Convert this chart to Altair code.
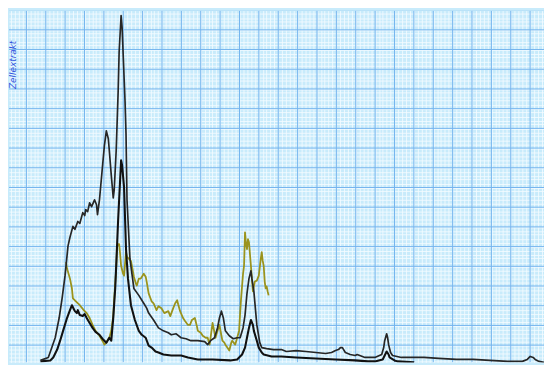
import altair as alt
import numpy as np
import pandas as pd

# Trace A (tall, dark grey) : scan number vs. detector signal
a_x = [35, 43, 50, 54, 57, 60, 63, 65, 68, 70, 73, 75, 78, 80, 81, 83, 85, 87, 90, 92, 93, 95, 98, 100, 102, 104, 105, 107, 109, 110,
       112, 114, 115, 117, 118, 119, 121, 122, 123, 126, 130, 135, 140, 143, 145, 150, 155, 160, 165, 168, 173, 178, 183, 188, 195,
       202, 205, 208, 212, 215, 217, 219, 221, 223, 227, 231, 235, 238, 241, 243, 245, 247, 249, 250, 252, 255, 258, 260, 265, 272,
       280, 285, 295, 305, 315, 325, 331, 335, 338, 340, 342, 345, 350, 355, 357, 365, 375, 382, 384, 385, 387, 388, 389, 391, 393,
       402, 415, 425, 440, 458, 475, 492, 510, 525, 530, 533, 536, 538, 542, 547]
a_y = [2, 5, 25, 45, 65, 88, 118, 127, 138, 135, 143, 141, 152, 149, 155, 153, 162, 158, 165, 160, 150, 165, 198, 220, 235, 227, 215,
       190, 167, 175, 215, 275, 315, 352, 340, 315, 265, 232, 165, 105, 75, 68, 60, 55, 50, 43, 35, 32, 30, 28, 29, 25, 24, 22, 22,
       21, 18, 22, 25, 35, 45, 52, 45, 32, 27, 24, 25, 25, 35, 48, 70, 85, 93, 85, 72, 38, 20, 15, 14, 13,
       13, 11, 12, 11, 10, 9, 10, 12, 13, 15, 15, 10, 8, 7, 8, 5, 5, 8, 15, 22, 29, 25, 18, 10, 7,
       5, 5, 5, 4, 3, 3, 2, 1, 1, 3, 6, 5, 3, 1, 0]

# Trace B (lower, black)
b_x = [35, 45, 48, 52, 55, 58, 62, 65, 67, 69, 70, 72, 73, 75, 78, 80, 82, 85, 88, 91, 95, 98, 100, 102, 105, 107, 109, 111, 112,
       114, 115, 117, 118, 120, 122, 124, 127, 131, 135, 138, 142, 145, 148, 152, 155, 160, 168, 178, 185, 195, 210, 228, 235, 240,
       243, 245, 247, 249, 251, 252, 255, 257, 260, 262, 270, 280, 295, 315, 335, 355, 368, 375, 383, 385, 387, 389, 390, 395, 398, 415]
b_y = [1, 2, 5, 13, 22, 32, 45, 53, 58, 54, 52, 50, 53, 48, 47, 49, 45, 40, 35, 31, 28, 24, 22, 20, 25, 22, 45, 75, 98,
       145, 165, 205, 200, 178, 115, 85, 58, 43, 32, 28, 25, 17, 15, 11, 10, 8, 7, 7, 5, 3, 3, 2, 3, 8,
       15, 25, 35, 43, 38, 32, 22, 15, 10, 8, 6, 6, 5, 4, 3, 2, 1, 1, 3, 7, 11, 8, 5, 2, 1, 0]

# Trace C (olive)
c_x = [61, 62, 63, 65, 67, 68, 71, 75, 79, 82, 85, 88, 91, 95, 98, 100, 102, 103, 105, 107, 109, 110, 112, 113, 114, 115, 116, 117,
       119, 120, 121, 122, 123, 125, 127, 128, 130, 132, 133, 135, 137, 140, 142, 143, 145, 148, 150, 153, 155, 158, 161, 165, 167,
       170, 172, 174, 175, 177, 180, 182, 185, 187, 189, 192, 194, 195, 198, 200, 203, 205, 207, 208, 210, 212, 213, 215, 217, 219,
       220, 222, 223, 225, 227, 229, 230, 233, 235, 237, 238, 239, 241, 242, 243, 244, 245, 246, 247, 248, 249, 250, 251, 252, 253,
       255, 257, 259, 260, 261, 262, 263, 264, 265, 266, 267]
c_y = [102, 95, 92, 85, 75, 65, 62, 58, 53, 50, 45, 38, 32, 27, 22, 18, 20, 22, 25, 32, 47, 65, 95, 118, 120, 120, 110, 98,
       90, 88, 100, 112, 107, 105, 103, 98, 87, 80, 78, 85, 85, 90, 87, 82, 70, 62, 60, 53, 57, 55, 50, 52, 47,
       55, 60, 63, 59, 52, 45, 42, 38, 38, 43, 45, 37, 32, 30, 27, 25, 25, 18, 25, 40, 30, 25, 32, 38, 27,
       22, 20, 18, 15, 12, 20, 22, 18, 25, 32, 50, 65, 90, 98, 132, 120, 115, 125, 122, 110, 98, 85, 72, 77, 82,
       83, 88, 105, 112, 103, 98, 82, 75, 77, 72, 68]

note_text = ["Zellextrakt"]
note_x = [7]
note_y = [302]

X_DOMAIN = [3, 547]
Y_DOMAIN = [0, 357]

BG = "#c8ebfb"
MINOR = "#f4fcff"
MAJOR = "#74b4ee"

minor_x = [round(v, 2) for v in np.arange(1, 552, 3.94)]
minor_y = [round(v, 2) for v in np.arange(-2.5, 360, 4)]
major_x = [round(v, 2) for v in np.arange(1, 552, 19.7)]
major_y = [round(v, 2) for v in np.arange(-2.5, 360, 20)]

xaxis = alt.Axis(values=minor_x, grid=True, gridColor=MINOR, gridWidth=1, gridOpacity=0.85,
                 domain=False, labels=False, ticks=False, title=None)
yaxis = alt.Axis(values=minor_y, grid=True, gridColor=MINOR, gridWidth=1, gridOpacity=0.85,
                 domain=False, labels=False, ticks=False, title=None)
xs = alt.Scale(domain=X_DOMAIN, nice=False, zero=False)
ys = alt.Scale(domain=Y_DOMAIN, nice=False, zero=False)

vrules = alt.Chart(pd.DataFrame({"x": major_x})).mark_rule(color=MAJOR, strokeWidth=1, clip=True).encode(
    x=alt.X("x:Q", scale=xs, axis=xaxis))
hrules = alt.Chart(pd.DataFrame({"y": major_y})).mark_rule(color=MAJOR, strokeWidth=1, clip=True).encode(
    y=alt.Y("y:Q", scale=ys, axis=yaxis))


def trace(xv, yv, color, width):
    return alt.Chart(pd.DataFrame({"x": xv, "y": yv})).mark_line(
        color=color, strokeWidth=width, clip=True, strokeJoin="round").encode(
        x=alt.X("x:Q", scale=xs, axis=xaxis),
        y=alt.Y("y:Q", scale=ys, axis=yaxis))


note = alt.Chart(pd.DataFrame({"x": note_x, "y": note_y, "t": note_text})).mark_text(
    angle=270, color="#2f52dc", fontSize=9, font="DejaVu Sans", fontStyle="italic").encode(
    x=alt.X("x:Q", scale=xs, axis=xaxis), y=alt.Y("y:Q", scale=ys, axis=yaxis), text="t:N")

chart = alt.layer(
    vrules, hrules, note,
    trace(c_x, c_y, "#9a931c", 1.8),
    trace(b_x, b_y, "#111111", 2.1),
    trace(a_x, a_y, "#262626", 1.7),
).properties(
    width=544, height=357,
    autosize=alt.AutoSizeParams(type="fit", contains="padding"),
    padding=0, background=BG,
).configure_view(stroke=None, fill=BG)

chart.save("out.html", embed_options={"renderer": "svg", "actions": False})
